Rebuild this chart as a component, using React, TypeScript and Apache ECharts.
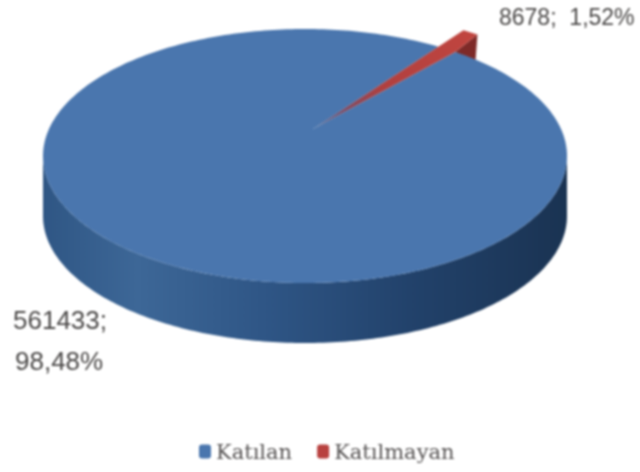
import React, { useEffect, useRef } from "react";
import * as echarts from "echarts";

const categories = ["Katılan", "Katılmayan"];
const values = [561433, 8678];
const percentLabels = ["98,48%", "1,52%"];

const CX = 305, CY = 156, RX = 262, RY = 127, DEPTH = 60;
const APEX: [number, number] = [313, 129];
const START = (59.4 * Math.PI) / 180;
const FAR_SCALE = 0.55;
const EXPLODE = 1.2;
const NOTCH = 0.45;

const total = values[0] + values[1];
const redSweep = (values[1] / total) * 2 * Math.PI * FAR_SCALE;
const END = START - redSweep;
const NOTCH_END = END - redSweep * NOTCH;

const onRim = (t: number, dy = 0): [number, number] => [CX + RX * Math.cos(t), CY + dy - RY * Math.sin(t)];
const exploded = (t: number): [number, number] => {
  const p = onRim(t);
  return [APEX[0] + (p[0] - APEX[0]) * EXPLODE, APEX[1] + (p[1] - APEX[1]) * EXPLODE];
};

function blueTop() {
  const pts: [number, number][] = [APEX];
  const sweep = 2 * Math.PI - (START - NOTCH_END);
  for (let i = 0; i <= 360; i++) pts.push(onRim(NOTCH_END - (sweep * i) / 360));
  return pts;
}
function blueWall() {
  const pts: [number, number][] = [];
  for (let i = 0; i <= 180; i++) pts.push(onRim(Math.PI + (Math.PI * i) / 180));
  for (let i = 180; i >= 0; i--) pts.push(onRim(Math.PI + (Math.PI * i) / 180, DEPTH));
  return pts;
}
const FONT = '"Liberation Sans", Arial, sans-serif';
const TEXT = "#4a4847";

export default function App() {
  const ref = useRef<HTMLDivElement>(null);
  useEffect(() => {
    const chart = echarts.init(ref.current!, undefined, { renderer: "svg" });
    const rimA = exploded(START);
    const rimB = exploded(END);
    const inner = onRim(NOTCH_END);
    const wallGrad = new echarts.graphic.LinearGradient(43, 0, 567, 0, [
      { offset: 0, color: "#2f5684" },
      { offset: 0.18, color: "#3d6797" },
      { offset: 0.42, color: "#2f5686" },
      { offset: 0.7, color: "#22426b" },
      { offset: 1, color: "#1a3352" },
    ], true);
    const redGrad = new echarts.graphic.LinearGradient(APEX[0], APEX[1], rimA[0], rimA[1], [
      { offset: 0, color: "#3f6ba4" },
      { offset: 0.2, color: "#7d4a63" },
      { offset: 0.45, color: "#b0403f" },
      { offset: 1, color: "#c0453f" },
    ], true);
    chart.setOption({
      animation: false,
      legend: {
        data: categories,
        left: 194,
        top: 436,
        itemWidth: 12,
        itemHeight: 14,
        itemGap: 25,
        selectedMode: false,
        textStyle: { fontFamily: '"DejaVu Serif", serif', fontSize: 21, color: "#565353", padding: [0, 0, 0, 0] },
      },
      series: [
        {
          type: "custom",
          name: categories[1],
          coordinateSystem: "none",
          z: 1,
          data: [[values[1]]],
          itemStyle: { color: "#b8413f" },
          renderItem: () => ({
            type: "polygon",
            shape: { points: [rimB, [rimB[0] - 2, rimB[1] + 27], inner] },
            style: { fill: "#7e2a28" },
          }),
        },
        {
          type: "custom",
          name: categories[0],
          coordinateSystem: "none",
          z: 2,
          data: [[values[0]]],
          itemStyle: { color: "#4a76ae" },
          renderItem: () => ({
            type: "group",
            children: [
              { type: "polygon", shape: { points: blueWall() }, style: { fill: wallGrad } },
              { type: "polygon", shape: { points: blueTop() }, style: { fill: "#4a76ae" } },
              {
                type: "text", x: 13, y: 307,
                style: { text: `${values[0]};`, fill: TEXT, font: `26px ${FONT}` },
              },
              {
                type: "text", x: 15, y: 348,
                style: { text: percentLabels[0], fill: TEXT, font: `26px ${FONT}` },
              },
            ],
          }),
        },
        {
          type: "custom",
          name: categories[1],
          coordinateSystem: "none",
          z: 3,
          data: [[values[1]]],
          itemStyle: { color: "#b8413f" },
          renderItem: () => ({
            type: "group",
            children: [
              { type: "polygon", shape: { points: [APEX, rimA, rimB, inner] }, style: { fill: redGrad } },
              {
                type: "text", x: 499, y: 5,
                style: { text: `${values[1]};  ${percentLabels[1]}`, fill: TEXT, font: `23px ${FONT}` },
              },
            ],
          }),
        },
      ],
    });
    return () => chart.dispose();
  }, []);
  return <div ref={ref} style={{ position: "fixed", left: 0, top: 0, width: 640, height: 472, filter: "blur(0.9px)" }} />;
}
